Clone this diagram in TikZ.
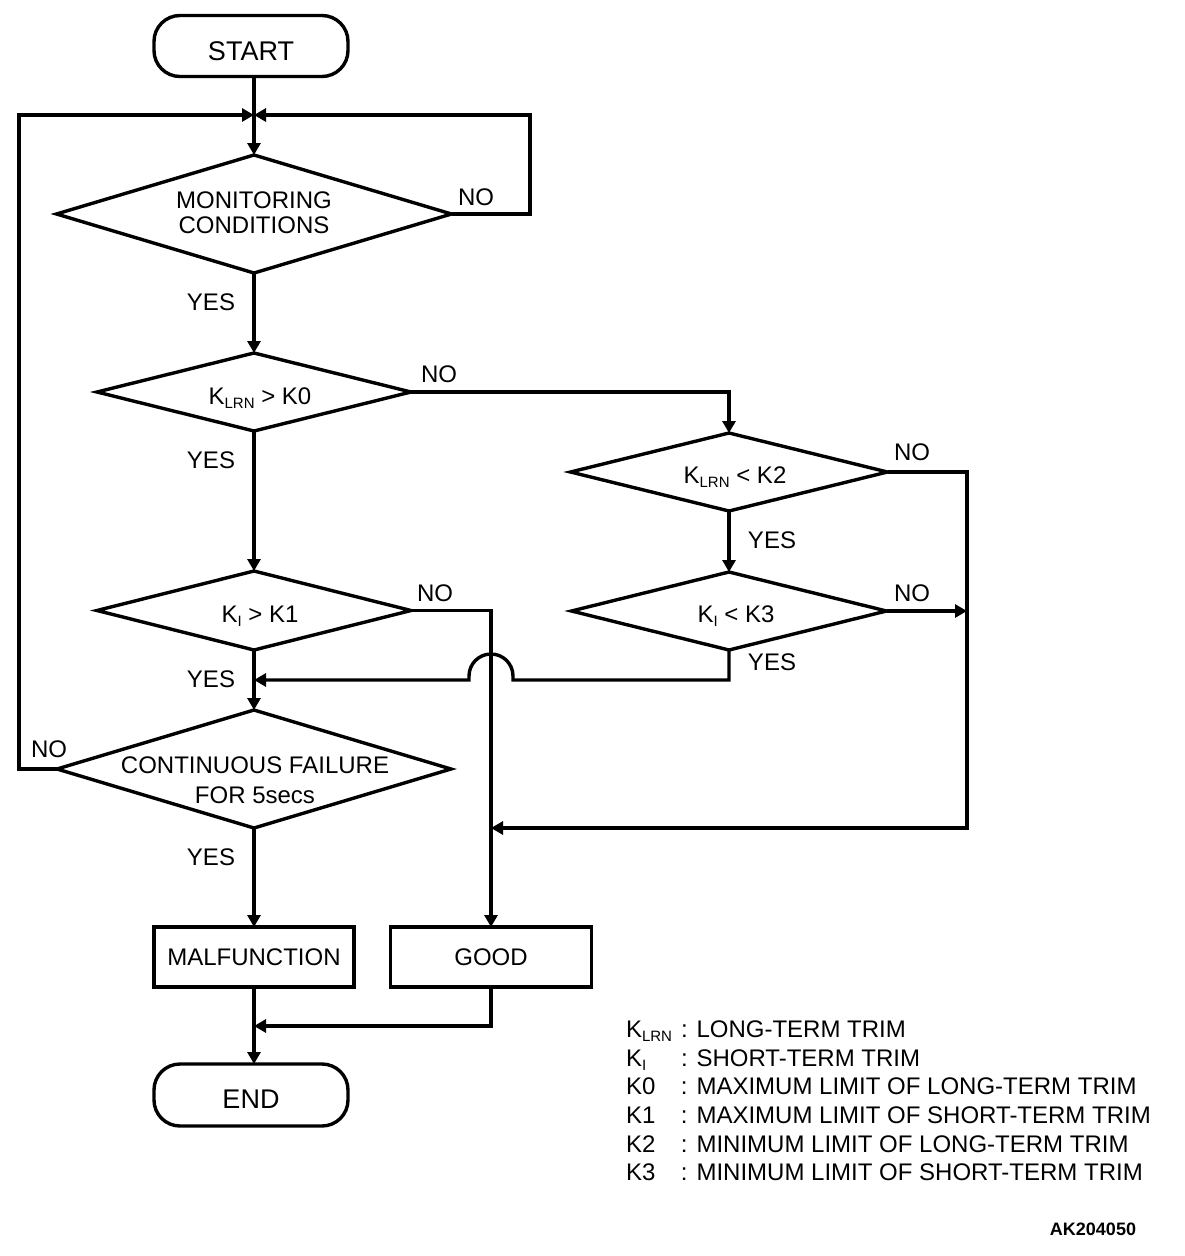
\documentclass[tikz,border=0pt]{standalone}
\usepackage{fontspec}
\setmainfont{Liberation Sans}
\usetikzlibrary{shapes.geometric,arrows.meta}
\newcommand{\sbs}[1]{\raisebox{-4pt}{\fontsize{15}{15}\selectfont #1}}
\begin{document}
\begin{tikzpicture}[x=1pt,y=-1pt,
  every node/.style={font=\fontsize{24}{25}\selectfont, inner sep=0pt, outer sep=0pt},
  ln/.style={line width=3.4pt},
  arr/.style={line width=3.4pt, -{Triangle[length=12pt,width=13pt]}},
  term/.style={draw, line width=3.4pt, rounded corners=26pt, minimum width=194pt, minimum height=61pt, font=\fontsize{27}{28}\selectfont},
  dec/.style={draw, diamond, line width=3.4pt},
  proc/.style={draw, line width=3.4pt, minimum width=200pt, minimum height=60pt},
  lab/.style={font=\fontsize{24}{25}\selectfont},
  leg/.style={anchor=base west, font=\fontsize{24}{25}\selectfont}
]
\useasboundingbox (0,0) rectangle (1184,1256);

% terminals and boxes
\node[term] (start) at (251,46) {\raisebox{-5pt}[\height][\depth]{START}};
\node[proc] (mal) at (254,957) {MALFUNCTION};
\node[proc, minimum width=201pt] (good) at (491,957) {GOOD};
\node[term, minimum height=62pt] (end) at (251,1095) {\raisebox{-4pt}[\height][\depth]{END}};

% decisions
\node[dec, minimum width=395pt, minimum height=118pt] (d1) at (254,214) {};
\node[dec, minimum width=314pt, minimum height=78pt] (d2) at (254,392) {};
\node[dec, minimum width=314pt, minimum height=79pt] (d3) at (254,610.5) {};
\node[dec, minimum width=317pt, minimum height=78pt] (d4) at (729,472) {};
\node[dec, minimum width=315pt, minimum height=78pt] (d5) at (729,611) {};
\node[dec, minimum width=394pt, minimum height=118pt] (d6) at (254,769) {};

% decision texts
\node[align=center, font=\fontsize{24}{25}\selectfont] (d1t) at (254,213) {MONITORING\\CONDITIONS};
\node[anchor=base] (d2t) at (260,404) {K\sbs{LRN} > K0};
\node[anchor=base] (d3t) at (260,622) {K\sbs{I} > K1};
\node[anchor=base] (d4t) at (735,483) {K\sbs{LRN} < K2};
\node[anchor=base] (d5t) at (736,622) {K\sbs{I} < K3};
\node[align=center, font=\fontsize{24}{30}\selectfont] (d6t) at (255,780) {CONTINUOUS FAILURE\\FOR 5secs};

% junctions
\coordinate (j1) at (254,115);
\coordinate (j2) at (254,680);
\coordinate (j3) at (491,828);
\coordinate (j4) at (967,611);
\coordinate (j5) at (254,1026);
\coordinate (h1) at (513,680);
\coordinate (h2) at (469,680);

% connectors
\draw[arr] (start.south -| d1.north) -- (d1.north);
\draw[arr] (d1.east) -- (530,214) |- (j1);
\draw[arr] (d6.west) -- (19,769) |- (j1);
\draw[arr] (d1.south) -- (d2.north);
\draw[arr] (d2.east) -| (d4.north);
\draw[arr] (d2.south) -- (d3.north);
\draw[arr] (d3.east) -| (good.north);
\draw[arr] (d4.south) -- (d5.north);
\draw[arr] (d4.east) -- (967,472) |- (j3);
\draw[arr] (d5.east) -- (j4);
\draw[arr] (d5.south) |- (h1) -- ++(0,-4) arc[start angle=0, end angle=-180, radius=22] -- (h2) -- (j2);
\draw[arr] (d3.south) -- (d6.north);
\draw[arr] (d6.south) -- (mal.north);
\draw[arr] (mal.south) -- (end.north -| mal.south);
\draw[arr] (good.south) |- (j5);

% branch labels
\node[lab] (n1) at (476,197) {NO};
\node[lab] (y1) at (211,302) {YES};
\node[lab] (n2) at (439,374) {NO};
\node[lab] (y2) at (211,460) {YES};
\node[lab] (n3) at (435,593) {NO};
\node[lab] (y3) at (211,679) {YES};
\node[lab] (n4) at (912,452) {NO};
\node[lab] (y4) at (772,540) {YES};
\node[lab] (n5) at (912,593) {NO};
\node[lab] (y5) at (772,662) {YES};
\node[lab] (n6) at (49,749) {NO};
\node[lab] (y6) at (211,857) {YES};

% legend
\node[leg] (l1) at (626,1037.6) {\makebox[55pt][l]{K\sbs{LRN}}: LONG-TERM TRIM};
\node[leg] (l2) at (626,1066.2) {\makebox[55pt][l]{K\sbs{I}}: SHORT-TERM TRIM};
\node[leg] (l3) at (626,1094.8) {\makebox[55pt][l]{K0}: MAXIMUM LIMIT OF LONG-TERM TRIM};
\node[leg] (l4) at (626,1123.4) {\makebox[55pt][l]{K1}: MAXIMUM LIMIT OF SHORT-TERM TRIM};
\node[leg] (l5) at (626,1152) {\makebox[55pt][l]{K2}: MINIMUM LIMIT OF LONG-TERM TRIM};
\node[leg] (l6) at (626,1180.6) {\makebox[55pt][l]{K3}: MINIMUM LIMIT OF SHORT-TERM TRIM};

\node[font=\fontsize{18}{20}\selectfont\bfseries] (code) at (1093,1229) {AK204050};
\end{tikzpicture}
\end{document}
